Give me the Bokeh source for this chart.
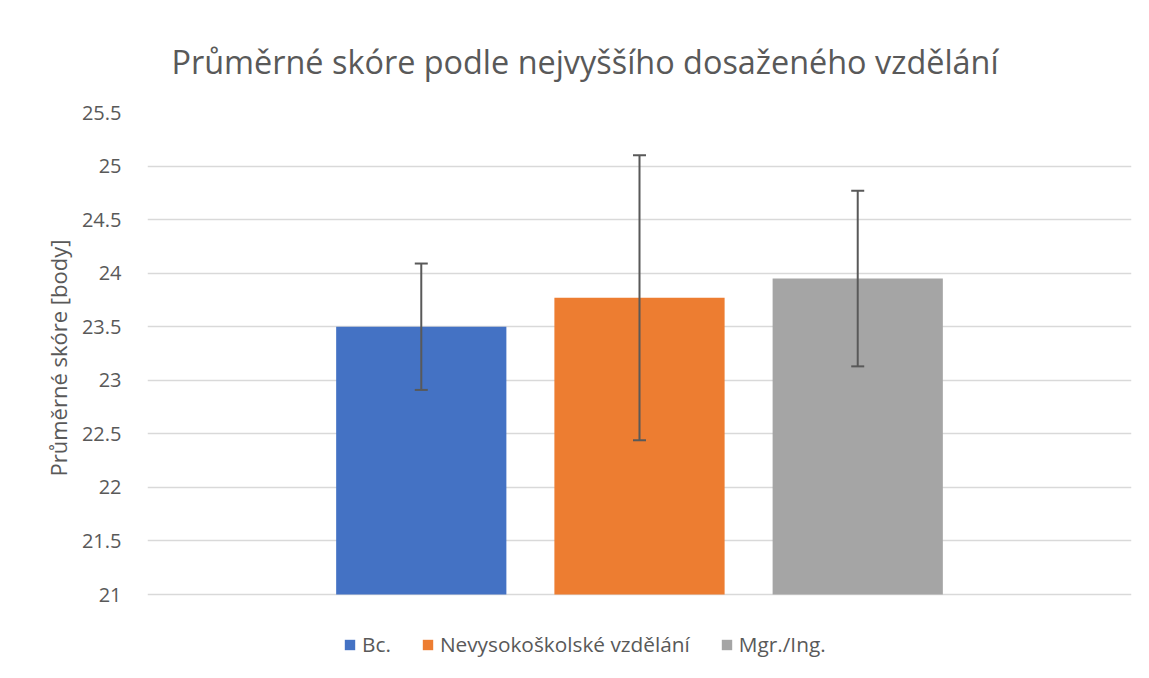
from bokeh.plotting import figure
from bokeh.models import (ColumnDataSource, Range1d, FactorRange, Whisker, TeeHead,
                          Legend, LegendItem, Title, FixedTicker)
from bokeh.embed import file_html
from bokeh.resources import INLINE

categories = ["Bc.", "Nevysokoškolské vzdělání", "Mgr./Ing."]
means = [23.50, 23.77, 23.95]
lower = [22.91, 22.44, 23.13]
upper = [24.09, 25.10, 24.77]
colors = ["#4472C4", "#ED7D31", "#A5A5A5"]
y_ticks = [21, 21.5, 22, 22.5, 23, 23.5, 24, 24.5, 25, 25.5]

FONT = "Open Sans"
TXT = "#595959"

# layout: axis 21..25.5 spans 482 px; frame continues below to hold the legend
W, H = 1149, 678
TOP, AXIS_PX = 112, 482
Y_MIN, Y_MAX = y_ticks[0], y_ticks[-1]
px_per_unit = AXIS_PX / (Y_MAX - Y_MIN)
frame_h = H - TOP
y_start = Y_MAX - frame_h / px_per_unit

src = ColumnDataSource(dict(cat=categories, mean=means, lower=lower, upper=upper, color=colors))

p = figure(width=W, height=H, output_backend="svg", toolbar_location=None,
           x_range=FactorRange(factors=categories, range_padding=0.503),
           y_range=Range1d(y_start, Y_MAX),
           min_border_left=147, min_border_right=18, min_border_top=TOP, min_border_bottom=0)

r = p.vbar(x="cat", top="mean", bottom=Y_MIN, width=0.78, color="color", line_color=None, source=src)

w = Whisker(base="cat", lower="lower", upper="upper", source=src, level="overlay",
            line_color=TXT, line_width=2,
            upper_head=TeeHead(size=13, line_color=TXT, line_width=2),
            lower_head=TeeHead(size=13, line_color=TXT, line_width=2))
p.add_layout(w)

t = Title(text="Průměrné skóre podle nejvyššího dosaženého vzdělání", align="left",
          text_font=FONT, text_font_size="32.4px", text_color=TXT, text_font_style="normal",
          offset=24, standoff=60)
p.add_layout(t, "above")

p.xaxis.visible = False
p.xgrid.visible = False
p.ygrid.grid_line_color = "#D9D9D9"
p.ygrid.grid_line_width = 1.5
p.yaxis.ticker = FixedTicker(ticks=y_ticks)
p.yaxis.axis_line_color = None
p.yaxis.major_tick_line_color = None
p.yaxis.minor_tick_line_color = None
p.yaxis.major_label_text_font = FONT
p.yaxis.major_label_text_font_size = "20px"
p.yaxis.major_label_text_color = TXT
p.yaxis.major_label_standoff = 20

ylab = Title(text="Průměrné skóre [body]", align="left", offset=202, standoff=12,
             text_font=FONT, text_font_size="22px", text_font_style="normal", text_color=TXT)
p.add_layout(ylab, "left")
p.outline_line_color = None

items = [LegendItem(label=c, renderers=[r], index=i) for i, c in enumerate(categories)]
leg = Legend(items=items, orientation="horizontal", location=(196, 20),
             label_text_font=FONT, label_text_font_size="20.8px", label_text_color=TXT,
             glyph_width=13, glyph_height=13, spacing=30, label_standoff=6,
             border_line_color=None, background_fill_alpha=0, margin=0, padding=0)
p.add_layout(leg)

open("out.html", "w").write(file_html(p, INLINE))
